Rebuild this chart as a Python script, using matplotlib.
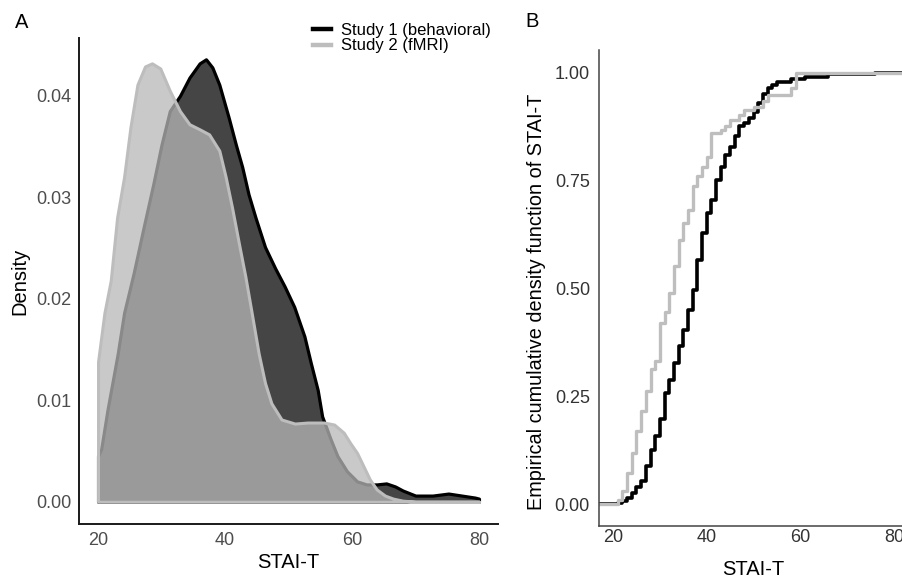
import numpy as np
import matplotlib
matplotlib.use('Agg')
import matplotlib.pyplot as plt
from matplotlib.lines import Line2D
from matplotlib.colors import to_rgba

plt.rcParams['font.family'] = ['Liberation Sans', 'DejaVu Sans']

# --- panel A: density curves ---
s1_x = [20.0, 20.5, 21.5, 23.1, 24.1, 25.6, 27.2, 28.7, 30.0, 31.3, 32.9, 34.4,
        36.0, 37.0, 38.0, 39.1, 40.6, 41.7, 42.7, 43.7, 44.8, 46.3, 47.9, 49.4,
        50.9, 52.5, 53.5, 54.6, 55.3, 55.9, 56.6, 57.7, 59.2, 60.8, 62.3, 63.9,
        65.4, 66.8, 68.0, 70.0, 72.7, 75.2, 77.3, 79.4, 80.0]
s1_d = [0.0045, 0.0052, 0.0091, 0.0146, 0.0186, 0.0225, 0.0271, 0.0313, 0.0352,
        0.0385, 0.0400, 0.0418, 0.0432, 0.0436, 0.0428, 0.0411, 0.0378, 0.0352,
        0.0330, 0.0303, 0.0280, 0.0251, 0.0230, 0.0212, 0.0192, 0.0163, 0.0137,
        0.0110, 0.0084, 0.0074, 0.0062, 0.0045, 0.0030, 0.0020, 0.0017, 0.0017,
        0.0018, 0.0015, 0.0011, 0.0006, 0.0006, 0.0008, 0.0006, 0.0004, 0.0003]

s2_x = [20.0, 21.0, 22.0, 23.0, 24.1, 25.1, 26.2, 27.4, 28.5, 29.8, 31.3, 32.9,
        34.4, 36.0, 37.5, 39.1, 40.1, 41.1, 42.2, 43.2, 44.2, 45.3, 46.3, 47.3,
        48.9, 51.0, 53.0, 55.6, 57.2, 58.7, 59.7, 60.8, 61.8, 62.8, 63.9, 65.2,
        66.5, 68.0, 70.0, 80.0]
s2_d = [0.0138, 0.0186, 0.0218, 0.0280, 0.0320, 0.0369, 0.0411, 0.0429, 0.0432,
        0.0427, 0.0405, 0.0385, 0.0372, 0.0367, 0.0362, 0.0346, 0.0320, 0.0290,
        0.0254, 0.0222, 0.0186, 0.0146, 0.0117, 0.0097, 0.0081, 0.0077, 0.0078,
        0.0078, 0.0076, 0.0068, 0.0058, 0.0048, 0.0035, 0.0022, 0.0012, 0.0006,
        0.0003, 0.0001, 0.0, 0.0]

# --- panel B: empirical CDF steps ---
s1_score = [21, 22, 23, 24, 25, 26, 27, 28, 29, 30, 31, 32, 33, 34, 35, 36, 37,
            38, 39, 40, 41, 42, 43, 44, 45, 46, 47, 48, 49, 50, 51, 52, 53, 54,
            55, 58, 61, 66, 76]
s1_cdf = [0.003, 0.008, 0.015, 0.026, 0.040, 0.054, 0.089, 0.127, 0.158, 0.197,
          0.259, 0.289, 0.328, 0.366, 0.405, 0.451, 0.498, 0.567, 0.629, 0.675,
          0.706, 0.752, 0.783, 0.810, 0.829, 0.853, 0.876, 0.884, 0.895, 0.910,
          0.930, 0.950, 0.965, 0.972, 0.980, 0.986, 0.991, 0.997, 1.000]

s2_score = [21, 22, 23, 24, 25, 26, 27, 28, 29, 30, 31, 32, 33, 34, 35, 36, 37,
            38, 39, 40, 41, 43, 44, 45, 47, 48, 50, 52, 53, 58, 59]
s2_cdf = [0.010, 0.030, 0.073, 0.120, 0.170, 0.216, 0.262, 0.314, 0.332, 0.420,
          0.447, 0.490, 0.552, 0.613, 0.652, 0.683, 0.737, 0.760, 0.783, 0.806,
          0.860, 0.868, 0.876, 0.891, 0.903, 0.914, 0.922, 0.934, 0.949, 0.964,
          1.000]

labels = ['Study 1 (behavioral)', 'Study 2 (fMRI)']

dark_fill = '#454545'
light_fill = '#b8b8b8'
light_line = '#bdbdbd'
tick_col = '#4d4d4d'

fig = plt.figure(figsize=(9.03, 5.78), dpi=100)
W, H = 903, 578

axA = fig.add_axes([79 / W, 1 - 524 / H, (498 - 79) / W, (524 - 38) / H])
axB = fig.add_axes([599 / W, 1 - 526 / H, (908 - 599) / W, (526 - 50) / H])

# panel A
p1 = axA.fill_between(s1_x, s1_d, 0, facecolor=dark_fill, edgecolor='black', linewidth=2.3)
p2 = axA.fill_between(s2_x, s2_d, 0, facecolor=to_rgba(light_fill, 0.75),
                      edgecolor=light_line, linewidth=2.2)
for p in (p1, p2):
    p.set_joinstyle('round')
axA.set_xlim(17, 83)
axA.set_ylim(-0.0022, 0.0457)
axA.set_xticks([20, 40, 60, 80])
axA.set_yticks([0, 0.01, 0.02, 0.03, 0.04])
axA.set_yticklabels(['0.00', '0.01', '0.02', '0.03', '0.04'])
axA.set_xlabel('STAI-T', fontsize=14.5, labelpad=3)
axA.set_ylabel('Density', fontsize=14.5, labelpad=5)
for s in ['top', 'right']:
    axA.spines[s].set_visible(False)
for s in ['left', 'bottom']:
    axA.spines[s].set_linewidth(1.4)
    axA.spines[s].set_color('#1a1a1a')
axA.tick_params(length=0, labelsize=13, colors=tick_col, pad=5.5)

handles = [Line2D([], [], color='black', lw=3.2),
           Line2D([], [], color=light_line, lw=3.2)]
fig.legend(handles, labels, loc='upper left', bbox_to_anchor=(313 / W, 1 - 23 / H),
           frameon=False, fontsize=12, handlelength=1.1, handletextpad=0.6,
           labelspacing=0.02, borderaxespad=0, borderpad=0)

# panel B
axB.step([0] + s1_score + [100], [0] + s1_cdf + [1.0], where='post',
         color='black', lw=2.6)
axB.step([0] + s2_score + [100], [0] + s2_cdf + [1.0], where='post',
         color='#bebebe', lw=2.4)
axB.set_xlim(17, 83)
axB.set_ylim(-0.05, 1.053)
axB.set_xticks([20, 40, 60, 80])
axB.set_yticks([0, 0.25, 0.5, 0.75, 1.0])
axB.set_yticklabels(['0.00', '0.25', '0.50', '0.75', '1.00'])
axB.set_xlabel('STAI-T', fontsize=14.5, labelpad=10)
axB.set_ylabel('Empirical cumulative density function of STAI-T', fontsize=14.3,
               labelpad=6)
axB.yaxis.set_label_coords(-0.17, 0.47)
for s in ['top', 'right']:
    axB.spines[s].set_visible(False)
for s in ['left', 'bottom']:
    axB.spines[s].set_linewidth(1.1)
    axB.spines[s].set_color('#444444')
axB.tick_params(axis='y', length=0, labelsize=13, colors='#333333', pad=6.5)
axB.tick_params(axis='x', length=0, labelsize=13, colors='#333333', pad=2)

fig.text(15 / W, 1 - 28 / H, 'A', fontsize=14.5, va='baseline')
fig.text(525 / W, 1 - 27 / H, 'B', fontsize=14.5, va='baseline')

fig.savefig('out.png', dpi=100)
